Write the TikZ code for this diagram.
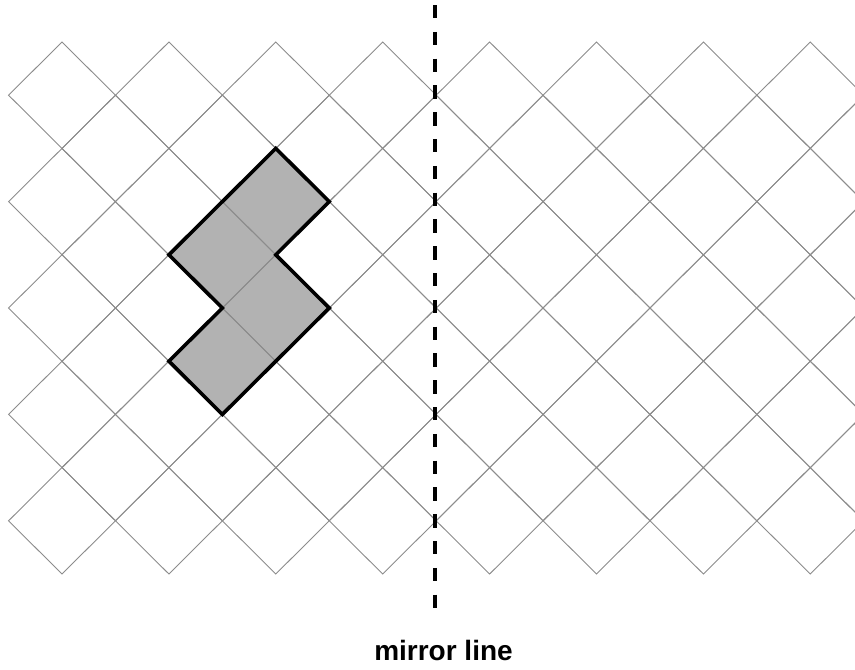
\documentclass[tikz,border=0pt]{standalone}
\usepackage{fontspec}
\setmainfont{Liberation Sans}
\begin{document}
\begin{tikzpicture}[x=1pt,y=-1pt,
  gridline/.style={draw=black!45, line width=0.9pt},
  piecefill/.style={fill=black!30},
  pieceline/.style={draw=black, line width=3.6pt, line join=miter},
  mirror/.style={draw=black, line width=3.6pt, dash pattern=on 13.4pt off 13.4pt},
  caption/.style={font=\bfseries\fontsize{28}{30}\selectfont, inner sep=0pt}]
\useasboundingbox (0,0) rectangle (855,670);
\begin{scope}[shift={(8.55pt,-42pt)}, x=53.45pt, y=-53.2pt]
  \fill[piecefill] (5,2) -- (6,3) -- (5,4) -- (6,5) -- (4,7) -- (3,6) -- (4,5) -- (3,4) -- cycle;
\end{scope}
\begin{scope}
\clip (0,0) rectangle (855,670);
\foreach \n in {0,...,8}{
  \foreach \m in {0,...,15}{
    \pgfmathtruncatemacro\pp{mod(\m+\n,2)}
    \ifnum\pp=0
      \draw[gridline] ({8.55+53.45*(\m+1)},{42+53.2*\n}) -- ++(53.45,53.2) -- ++(-53.45,53.2) -- ++(-53.45,-53.2) -- cycle;
    \fi
  }
}
\end{scope}
\begin{scope}[shift={(8.55pt,-42pt)}, x=53.45pt, y=-53.2pt]
  \draw[pieceline] (5,2) -- (6,3) -- (5,4) -- (6,5) -- (4,7) -- (3,6) -- (4,5) -- (3,4) -- cycle;
\end{scope}
\coordinate (mtop) at (435,5);
\coordinate (mbot) at (435,609);
\draw[mirror] (mtop) -- (mbot);
\node[caption, anchor=base] (lbl) at (443.5,660) {mirror line};
\end{tikzpicture}
\end{document}
